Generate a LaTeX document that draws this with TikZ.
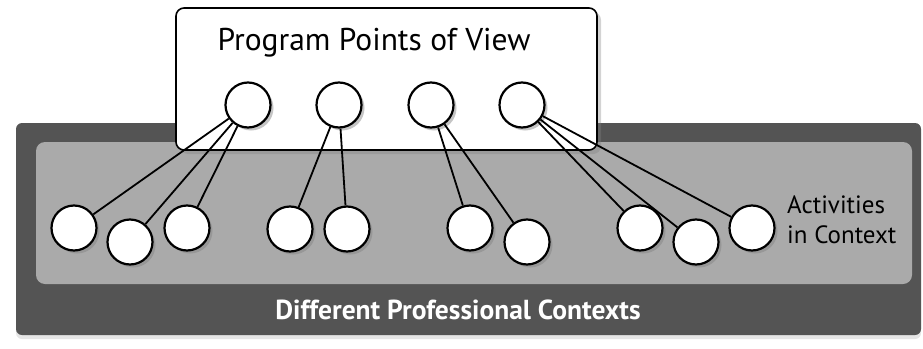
\documentclass[tikz,border=0pt]{standalone}
\usepackage{fontspec}
\setmainfont{PT Sans}
\usetikzlibrary{shadows, positioning}
\definecolor{ctxdark}{RGB}{84,84,84}
\definecolor{ctxlight}{RGB}{170,170,170}
\tikzset{pt/.style={circle, draw=black, fill=white, line width=2.2pt, minimum size=45pt, inner sep=0pt,
    drop shadow={opacity=0.45, shadow xshift=3pt, shadow yshift=-3pt}}}
\tikzset{link/.style={line width=1.8pt}}

\begin{document}
\begin{tikzpicture}[x=1pt, y=-1pt]
  \useasboundingbox (0,0) rectangle (923,348);
  % contexts
  \node(ctx) [draw=none, fill=ctxdark, rounded corners=6pt, minimum width=905pt, minimum height=212pt,
    drop shadow={opacity=0.2, shadow xshift=0pt, shadow yshift=-4pt}] at (468.5,229) {};
  \node(act) [fill=ctxlight, rounded corners=9pt, minimum width=876pt, minimum height=142pt] at (474,213) {};
  \node(diff) [text=white, font=\bfseries\fontsize{27.5}{32}\selectfont] at (458,310) {Different Professional Contexts};
  \node(actlbl) [align=left, anchor=west, inner sep=0pt, font=\fontsize{25}{30}\selectfont] at (787,220) {Activities\\in Context};
  % program box
  \node(prog) [draw, fill=white, line width=1.6pt, rounded corners=8pt, minimum width=421pt, minimum height=142pt,
    drop shadow={opacity=0.35, shadow xshift=4pt, shadow yshift=-4pt}] at (386.5,79) {};
  \node(title) [font=\fontsize{31.5}{36}\selectfont] at (374,43) {Program Points of View};
  % points of view
  \node(pv1) [pt] at (248,105) {};
  \node(pv2) [pt] at (339,105) {};
  \node(pv3) [pt] at (431,105) {};
  \node(pv4) [pt] at (522,105) {};
  % activities
  \node(a1) [pt] at (74,228) {};
  \node(a2) [pt] at (130,242) {};
  \node(a3) [pt] at (187,228) {};
  \node(a4) [pt] at (290,229) {};
  \node(a5) [pt] at (347,229) {};
  \node(a6) [pt] at (470,228) {};
  \node(a7) [pt] at (527,242) {};
  \node(a8) [pt] at (640,228) {};
  \node(a9) [pt] at (696,242) {};
  \node(a10) [pt] at (752,228) {};
  \draw[link]
   (pv1) -- (a1) (pv1) -- (a2) (pv1) -- (a3)
   (pv2) -- (a4) (pv2) -- (a5)
   (pv3) -- (a6) (pv3) -- (a7)
   (pv4) -- (a8) (pv4) -- (a9) (pv4) -- (a10);
\end{tikzpicture}
\end{document}
